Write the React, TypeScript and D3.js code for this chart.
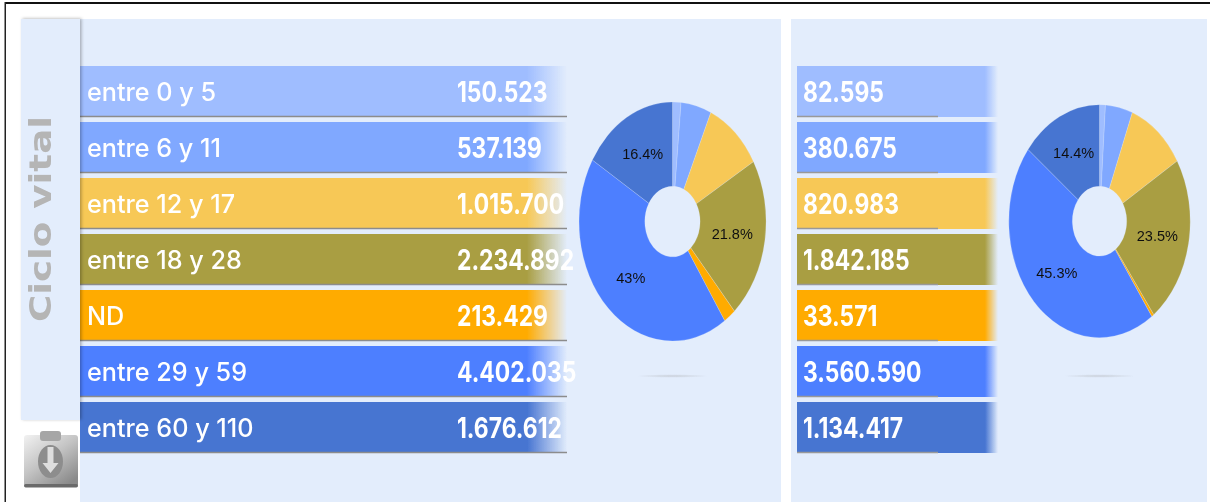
import React from "react";
import * as d3 from "d3";

const categories = ["entre 0 y 5", "entre 6 y 11", "entre 12 y 17", "entre 18 y 28", "ND", "entre 29 y 59", "entre 60 y 110"];
const colors = ["#9fbdff", "#80a8ff", "#f7c856", "#a99e43", "#ffab00", "#4d7fff", "#4674d1"];
const valuesLeft = [150523, 537139, 1015700, 2234892, 213429, 4402035, 1676612];
const valuesRight = [82595, 380675, 820983, 1842185, 33571, 3560590, 1134417];
const sidebarTitle = "Ciclo vital";

const PANEL = "#e3edfc";
const fmt = d3.formatLocale({ decimal: ",", thousands: ".", grouping: [3], currency: ["", ""] }).format(",d");
const band = d3.scaleBand<string>().domain(categories).range([66, 453]).paddingInner(5 / 56);
const pie = d3.pie<number>().sort(null);

function Donut({ id, values, cx, cy, rx, ry, inner }: { id: string; values: number[]; cx: number; cy: number; rx: number; ry: number; inner: number }) {
  const total = d3.sum(values);
  const sx = d3.scaleLinear().domain([-1, 1]).range([cx - rx, cx + rx]);
  const sy = d3.scaleLinear().domain([-1, 1]).range([cy - ry, cy + ry]);
  const a = d3.arc<d3.PieArcDatum<number>>().innerRadius(inner).outerRadius(1);
  const slices = pie(values);
  return (
    <g>
      <g transform={`translate(${cx},${cy}) scale(${rx},${ry})`}>
        {slices.map((d, i) => (
          <path key={i} d={a(d) || ""} fill={colors[i]} stroke={PANEL} strokeWidth={0.35} strokeOpacity={0.6} vectorEffect="non-scaling-stroke" />
        ))}
      </g>
      {slices.map((d, i) => {
        const share = d.value / total;
        if (share < 0.13) return null;
        const [px, py] = a.centroid(d);
        return (
          <text key={i} x={sx(px)} y={sy(py)} textAnchor="middle" dominantBaseline="central" fontFamily="Liberation Sans" fontSize={14.5} fill="#111">
            {`${+(share * 100).toFixed(1)}%`}
          </text>
        );
      })}
      <ellipse cx={cx} cy={376} rx={36} ry={1.8} fill={`url(#${id}-shadow)`} />
    </g>
  );
}

function Bars({ id, values, x0, fadeStart, x1, lineEnd, showLabels, valueX, lineColor }: { id: string; values: number[]; x0: number; fadeStart: number; x1: number; lineEnd: number; showLabels: boolean; valueX: number; lineColor: string }) {
  const sx = d3.scaleLinear().domain([0, 1]).range([x0, x1]);
  return (
    <g>
      <defs>
        {colors.map((c, i) => (
          <linearGradient key={i} id={`${id}-g${i}`} gradientUnits="userSpaceOnUse" x1={x0} x2={x1} y1={0} y2={0}>
            <stop offset={0} stopColor={c} />
            <stop offset={(fadeStart - x0) / (x1 - x0)} stopColor={c} />
            <stop offset={1} stopColor={c} stopOpacity={0} />
          </linearGradient>
        ))}
      </defs>
      {categories.map((c, i) => {
        const y = band(c)!;
        const h = band.bandwidth();
        return (
          <g key={c}>
            <rect x={sx(0)} y={y} width={sx(1) - sx(0)} height={h} fill={`url(#${id}-g${i})`} />
            <line x1={x0} x2={lineEnd} y1={y + h - 0.5} y2={y + h - 0.5} stroke={lineColor} strokeWidth={1.3} />
            {showLabels && (
              <text transform={`translate(87,${y + h / 2 + 0.5}) scale(1.05,1.05)`} dominantBaseline="central" fontFamily="Inter" fontWeight={500} fontSize={24} fill="#fff">{c}</text>
            )}
            <text transform={`translate(${valueX},${y + h / 2}) scale(0.88,1.08)`} dominantBaseline="central" fontFamily="Inter" fontWeight={700} fontSize={26} fill="#fff">{fmt(values[i])}</text>
          </g>
        );
      })}
    </g>
  );
}

function Icon() {
  return (
    <g>
      <rect x={24} y={435} width={54} height={52} rx={3} fill="url(#iconBody)" />
      <rect x={24} y={484} width={54} height={3.5} rx={1.7} fill="#6a6a6a" />
      <rect x={40} y={431} width={21} height={10} rx={3} fill="#a6a6a6" />
      <ellipse cx={50.5} cy={461.5} rx={12.5} ry={16.5} fill="#8d8d8d" />
      <path d="M47.500 447 h6 v16 h5 l-8 10 -8 -10 h5 z" fill="#dedede" />
    </g>
  );
}

export default function App() {
  return (
    <svg width={1210} height={502} style={{ position: "fixed", left: 0, top: 0, background: "#fff" }}>
      <defs>
        <filter id="sideShadow" x="-20%" y="-5%" width="140%" height="110%">
          <feDropShadow dx={1.5} dy={-0.5} stdDeviation={1.8} floodColor="#000" floodOpacity={0.28} />
        </filter>
        <filter id="soft"><feGaussianBlur stdDeviation={0.4} /></filter>
        <linearGradient id="iconBody" x1={0} x2={0.75} y1={0} y2={1}>
          <stop offset={0} stopColor="#f2f2f2" />
          <stop offset={0.5} stopColor="#c4c4c4" />
          <stop offset={1} stopColor="#8a8a8a" />
        </linearGradient>
        {["a", "b"].map((id) => (
          <radialGradient key={id} id={`${id}-shadow`}>
            <stop offset={0} stopColor="#9a9a9a" stopOpacity={0.35} />
            <stop offset={1} stopColor="#9a9a9a" stopOpacity={0} />
          </radialGradient>
        ))}
      </defs>
      <rect x={5} y={2} width={1205} height={2} fill="#111" />
      <rect x={4.5} y={2} width={1.5} height={500} fill="#222" />
      <rect x={80} y={19} width={701} height={483} fill={PANEL} />
      <rect x={791} y={19} width={416} height={483} fill={PANEL} />
      <g filter="url(#soft)">
        <Bars id="l" values={valuesLeft} x0={80} fadeStart={527} x1={567} lineEnd={567} showLabels valueX={457} lineColor="#8c8c8c" />
        <Bars id="r" values={valuesRight} x0={797} fadeStart={985} x1={998} lineEnd={938} showLabels={false} valueX={803} lineColor="#999" />
        <Donut id="a" values={valuesLeft} cx={672.5} cy={221.5} rx={93.5} ry={119.5} inner={0.295} />
        <Donut id="b" values={valuesRight} cx={1099.5} cy={221.2} rx={90.7} ry={116.5} inner={0.3} />
        <Icon />
      </g>
      <rect x={21} y={19} width={59} height={401} fill={PANEL} filter="url(#sideShadow)" />
      <text filter="url(#soft)" transform="translate(40,219) rotate(-90) scale(1.2,1)" textAnchor="middle" dominantBaseline="central" fontFamily="DejaVu Sans" fontWeight={700} fontSize={31} fill="#b5b5b5">{sidebarTitle}</text>
    </svg>
  );
}
